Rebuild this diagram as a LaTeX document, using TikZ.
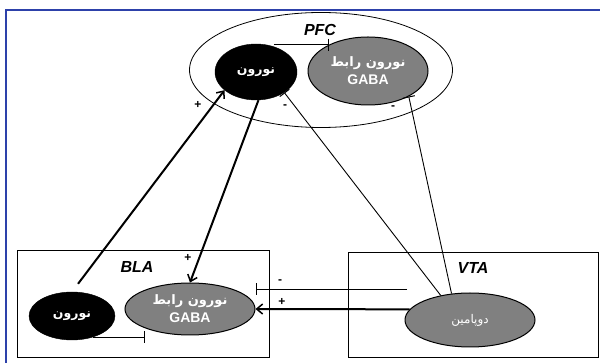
\documentclass[tikz,border=0pt]{standalone}
\usepackage{fontspec}
\setmainfont{Liberation Sans}
\newfontfamily\arabicfont[Script=Arabic]{DejaVu Sans}
\TeXXeTstate=1
\usetikzlibrary{arrows.meta,shapes.geometric}
\definecolor{frameblue}{RGB}{45,65,170}
\newcommand{\gabatxt}{{\normalfont\bfseries\fontsize{14}{18}\selectfont GABA}}

\begin{document}
\begin{tikzpicture}[x=1pt,y=-1pt,
  neuron/.style={ellipse,fill=black,draw=black,inner sep=0pt,text=white,
    font=\arabicfont\bfseries\fontsize{12.5}{14}\selectfont},
  inter/.style={ellipse,fill=gray,draw=black,line width=1pt,inner sep=0pt,
    text=white,align=center,font=\arabicfont\bfseries\fontsize{13}{18}\selectfont},
  region/.style={draw=black,line width=0.8pt,inner sep=0pt},
  area/.style={font=\bfseries\itshape\fontsize{16}{18}\selectfont},
  sign/.style={font=\bfseries\fontsize{12}{14}\selectfont},
  excite/.style={line width=2pt,-{Straight Barb[length=6pt,width=10pt,line width=1.5pt]}},
  inhib/.style={line width=0.9pt,-{Bar[width=12pt,line width=1pt]}}]
\useasboundingbox (0,0) rectangle (600,363);

\draw[frameblue,line width=1.5pt] (600,10) -- (6,10) -- (6,363);

% regions
\node[region,ellipse,minimum width=263pt,minimum height=115pt] (pfc) at (321,70) {};
\node[region,minimum width=252pt,minimum height=107pt] (bla) at (143,303.5) {};
\node[region,minimum width=250pt,minimum height=105pt] (vta) at (473,304.5) {};
\node[area] (pfcLbl) at (320,30) {PFC};
\node[area] (blaLbl) at (137,267) {BLA};
\node[area] (vtaLbl) at (473,268) {VTA};

% cells
\node[neuron,minimum width=82pt,minimum height=56pt] (pfcN) at (256,72) {\beginR نورون\endR};
\node[inter,minimum width=120pt,minimum height=68pt] (pfcG) at (368,71)
  {\beginR نورون رابط\endR\\\gabatxt};
\node[neuron,minimum width=86pt,minimum height=48pt] (blaN) at (72,316) {\beginR نورون\endR};
\node[inter,minimum width=130pt,minimum height=52pt] (blaG) at (190,309)
  {\beginR نورون رابط\endR\\\gabatxt};
\node[inter,minimum width=130pt,minimum height=54pt,
  font=\arabicfont\fontsize{12}{14}\selectfont] (dop) at (470,320) {\beginR دوپامین\endR};

% connections
\draw[excite,shorten <=10pt] (blaN.north) -- (pfcN.210);
\draw[excite] (pfcN.275) -- (blaG.north);
\draw[excite] (dop.170) -- (blaG.east);
\coordinate (vtaA) at (407,289);
\draw[inhib] (vtaA) -- (vtaA -| blaG.east);
\draw[inhib] (dop.140) -- (pfcN.-36);
\draw[inhib] (dop.125) -- (pfcG.-32);
\draw[inhib] (pfcN.55 |- pfcG.146) -- (pfcG.146);
\draw[inhib] (blaN.-45) -- (blaN.-45 -| blaG.203);

\node[sign] (s1) at (198,105) {+};
\node[sign] (s2) at (285,107) {-};
\node[sign] (s3) at (393,108) {-};
\node[sign] (s4) at (188,258) {+};
\node[sign] (s5) at (280,282) {-};
\node[sign] (s6) at (282,302) {+};

\end{tikzpicture}
\end{document}
